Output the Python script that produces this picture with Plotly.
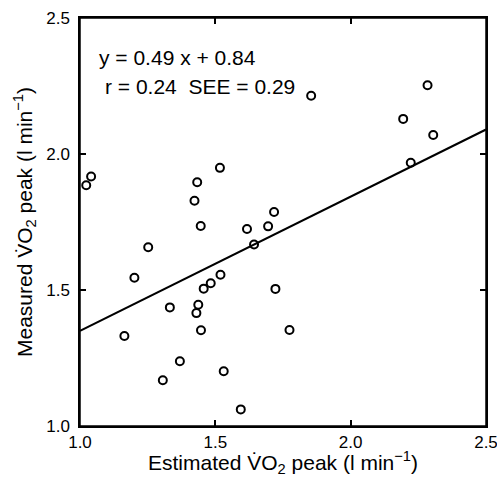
import plotly.graph_objects as go

# Estimated VO2 peak (x) and measured VO2 peak (y), l/min
est_vo2 = [1.854, 2.284, 2.194, 2.305, 2.222, 1.023, 1.041, 1.517, 1.433, 1.423,
           1.446, 1.252, 1.617, 1.695, 1.717, 1.643, 1.201, 1.519, 1.483, 1.457,
           1.722, 1.332, 1.437, 1.430, 1.447, 1.774, 1.164, 1.369, 1.531, 1.306,
           1.594]
meas_vo2 = [2.214, 2.253, 2.129, 2.070, 1.968, 1.885, 1.917, 1.949, 1.896, 1.828,
            1.735, 1.657, 1.724, 1.734, 1.787, 1.667, 1.545, 1.556, 1.525, 1.505,
            1.504, 1.436, 1.446, 1.415, 1.352, 1.353, 1.331, 1.238, 1.201, 1.168,
            1.061]

# Regression line as drawn
fit_x = [1.0, 2.5]
fit_y = [1.35, 2.09]

tick_vals = [1.0, 1.5, 2.0, 2.5]
tick_text = ["1.0", "1.5", "2.0", "2.5"]

FONT = "Liberation Sans, Arial, Helvetica, sans-serif"

fig = go.Figure()
fig.add_trace(go.Scatter(x=fit_x, y=fit_y, mode="lines",
                         line=dict(color="black", width=2), showlegend=False,
                         hoverinfo="skip"))
fig.add_trace(go.Scatter(x=est_vo2, y=meas_vo2, mode="markers",
                         marker=dict(symbol="circle-open", size=8, color="black",
                                     line=dict(width=2, color="black")),
                         showlegend=False))

axis_common = dict(
    range=[1.0, 2.5], tickvals=tick_vals, ticktext=tick_text,
    showgrid=False, zeroline=False, showline=True, linecolor="black",
    linewidth=1.5, mirror="ticks", ticks="inside", ticklen=6, tickwidth=1.5,
    tickcolor="black", tickfont=dict(family=FONT, size=17, color="black"),
    automargin=False, ticklabeloverflow="allow",
)

fig.update_layout(
    width=497, height=477,
    margin=dict(l=80, r=11, t=18, b=51),
    plot_bgcolor="white", paper_bgcolor="white",
    font=dict(family=FONT, color="black"),
    xaxis=dict(**axis_common,
               title=dict(text="Estimated V\u0307O<sub>2</sub> peak (l min<sup>\u22121</sup>)",
                          font=dict(family=FONT, size=21, color="black"), standoff=2)),
    yaxis=dict(**axis_common, ticklabelstandoff=5,
               title=dict(text="Measured V\u0307O<sub>2</sub> peak (l min<sup>\u22121</sup>)",
                          font=dict(family=FONT, size=21, color="black"), standoff=8)),
    shapes=[dict(type="rect", xref="paper", yref="paper", x0=0, y0=0, x1=1, y1=1,
                 line=dict(color="black", width=1.5), layer="above")],
    annotations=[
        dict(text="y = 0.49 x + 0.84", xref="paper", yref="paper",
             x=0.042, y=0.904, xanchor="left", yanchor="middle", showarrow=False,
             font=dict(family=FONT, size=21, color="black")),
        dict(text="r = 0.24  SEE = 0.29", xref="paper", yref="paper",
             x=0.057, y=0.831, xanchor="left", yanchor="middle", showarrow=False,
             font=dict(family=FONT, size=21, color="black")),
    ],
)

fig.write_html("out.html", config={"displayModeBar": False},
               post_script="document.body.style.margin='0';document.body.style.overflow='hidden';")
